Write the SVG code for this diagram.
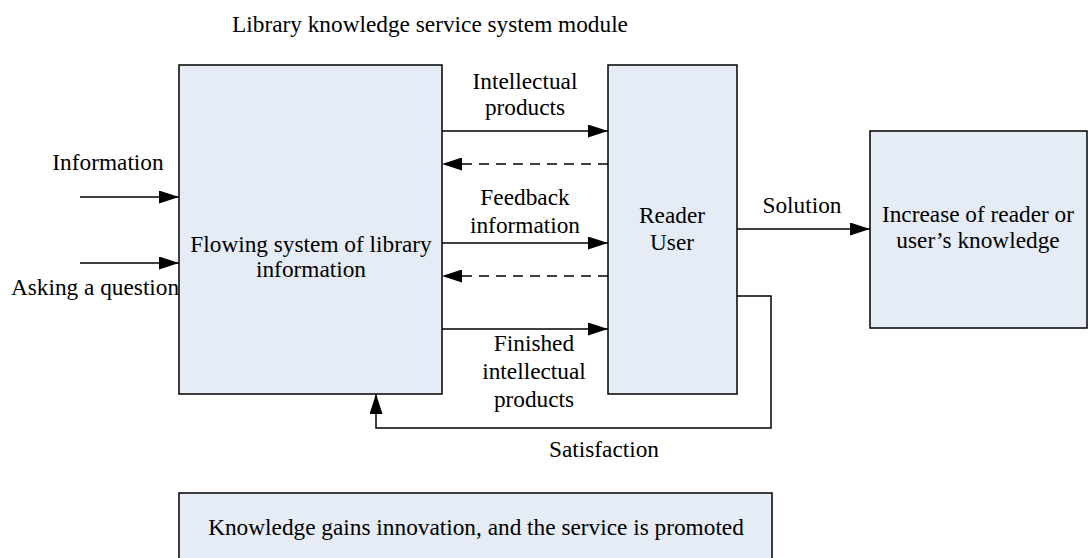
<svg xmlns="http://www.w3.org/2000/svg" width="1089" height="558" viewBox="0 0 1089 558">
<style>
.box{fill:#E6ECF6;stroke:#000;stroke-width:1.5}
.t{font-family:'Liberation Serif','Tinos','DejaVu Serif',serif;font-size:23.3px;fill:#000;text-anchor:middle}
.ln{fill:none;stroke:#000;stroke-width:1.5}
.dash{stroke-dasharray:10,7}
</style>
<defs>
<marker id="ah" viewBox="0 0 20 13" refX="20" refY="6.5" markerWidth="20" markerHeight="13" markerUnits="userSpaceOnUse" orient="auto">
<path d="M0,0 L20,6.5 L0,13 Z" fill="#000"/>
</marker>
</defs>
<text class="t" x="430" y="32">Library knowledge service system module</text>
<g id="flowing">
<rect class="box" x="179" y="65" width="263" height="329"/>
<text class="t" x="311" y="252">Flowing system of library</text>
<text class="t" x="311" y="277">information</text>
</g>
<g id="reader">
<rect class="box" x="608" y="65" width="129" height="329"/>
<text class="t" x="672" y="223">Reader</text>
<text class="t" x="672" y="250">User</text>
</g>
<g id="increase">
<rect class="box" x="870" y="131" width="217" height="197"/>
<text class="t" x="978" y="222">Increase of reader or</text>
<text class="t" x="978" y="248">user’s knowledge</text>
</g>
<g id="innovation">
<rect class="box" x="179" y="493" width="593" height="68"/>
<text class="t" x="476" y="535">Knowledge gains innovation, and the service is promoted</text>
</g>
<g id="connectors">
<line class="ln" x1="80" y1="197" x2="179" y2="197" marker-end="url(#ah)"/>
<line class="ln" x1="80" y1="263" x2="179" y2="263" marker-end="url(#ah)"/>
<line class="ln" x1="442" y1="131" x2="608" y2="131" marker-end="url(#ah)"/>
<line class="ln dash" x1="608" y1="164" x2="442" y2="164" marker-end="url(#ah)"/>
<line class="ln" x1="442" y1="243" x2="608" y2="243" marker-end="url(#ah)"/>
<line class="ln dash" x1="608" y1="276" x2="442" y2="276" marker-end="url(#ah)"/>
<line class="ln" x1="442" y1="329" x2="608" y2="329" marker-end="url(#ah)"/>
<line class="ln" x1="737" y1="229" x2="870" y2="229" marker-end="url(#ah)"/>
<polyline class="ln" points="737,296 771,296 771,428 376,428 376,394" marker-end="url(#ah)"/>
<text class="t" x="108" y="170">Information</text>
<text class="t" x="95" y="295">Asking a question</text>
<text class="t" x="525" y="89">Intellectual</text>
<text class="t" x="525" y="115">products</text>
<text class="t" x="525" y="205">Feedback</text>
<text class="t" x="525" y="233">information</text>
<text class="t" x="534" y="351">Finished</text>
<text class="t" x="534" y="379">intellectual</text>
<text class="t" x="534" y="407">products</text>
<text class="t" x="802" y="213">Solution</text>
<text class="t" x="604" y="457">Satisfaction</text>
</g>
</svg>
